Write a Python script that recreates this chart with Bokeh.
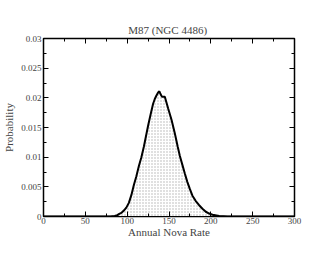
from bokeh.plotting import figure
from bokeh.models import LinearAxis, FixedTicker
from bokeh.embed import file_html
from bokeh.resources import INLINE

# Data
rate = [0, 80, 85, 88, 90, 93, 96, 99, 102, 105, 108, 111, 114, 117, 120, 125, 128, 131,
        133, 135, 137, 138.5, 140, 141.5, 145, 149, 153, 157, 160.5, 163, 166, 169, 172,
        175, 178, 182, 186, 190, 194, 198, 202, 210, 220, 300]
prob = [0, 0, 0.0001, 0.0002, 0.0004, 0.0006, 0.0010, 0.0015, 0.0023, 0.0036, 0.0053,
        0.0068, 0.0085, 0.0100, 0.0118, 0.0153, 0.0172, 0.0190, 0.0198, 0.0204, 0.0209,
        0.0211, 0.0206, 0.0202, 0.0202, 0.0182, 0.0163, 0.0140, 0.0117, 0.0102, 0.0087,
        0.0072, 0.0058, 0.0046, 0.0035, 0.0026, 0.0019, 0.0013, 0.0008, 0.0005, 0.0003,
        0.0001, 0, 0]
x_ticks = [0, 50, 100, 150, 200, 250, 300]
x_minor = [25, 75, 125, 175, 225, 275]
y_ticks = [0, 0.005, 0.01, 0.015, 0.02, 0.025, 0.03]
y_minor = [0.0025, 0.0075, 0.0125, 0.0175, 0.0225, 0.0275]
y_tick_labels = ["0", "0.005", "0.01", "0.015", "0.02", "0.025", "0.03"]
title_text = "M87  (NGC 4486)"
x_label = "Annual Nova Rate"
y_label = "Probability"

FONT = "Liberation Serif"

p = figure(width=330, height=255, output_backend="svg", toolbar_location=None,
           x_range=(0, 300), y_range=(0, 0.03), x_axis_location=None, y_axis_location=None,
           min_border_left=38, min_border_right=36, min_border_top=38, min_border_bottom=39)
p.grid.visible = False
p.outline_line_color = "black"
p.outline_line_width = 1.5
p.background_fill_color = "white"
p.border_fill_color = "white"
p.title.text = title_text
p.title.align = "center"
p.title.text_font = FONT
p.title.text_font_size = "11px"
p.title.text_font_style = "normal"
p.title.standoff = 5


def style(ax, labels=True):
    ax.axis_line_color = "black"
    ax.axis_line_width = 1
    ax.major_tick_in = 5
    ax.major_tick_out = 0
    ax.minor_tick_in = 3
    ax.minor_tick_out = 0
    ax.major_tick_line_color = "black"
    ax.minor_tick_line_color = "black"
    ax.major_label_text_font = FONT
    ax.major_label_text_font_size = "9px"
    ax.major_label_standoff = 2 if labels else 0
    ax.axis_label_text_font = FONT
    ax.axis_label_text_font_style = "normal"
    ax.axis_label_text_font_size = "11px"


bx = LinearAxis(ticker=FixedTicker(ticks=x_ticks, minor_ticks=x_minor))
style(bx)
bx.major_label_standoff = 1
bx.axis_label = x_label
bx.axis_label_standoff = -1
p.add_layout(bx, "below")

ly = LinearAxis(ticker=FixedTicker(ticks=y_ticks, minor_ticks=y_minor))
style(ly)
ly.major_label_overrides = {t: s for t, s in zip(y_ticks, y_tick_labels)}
ly.axis_label = y_label
ly.axis_label_standoff = 3
p.add_layout(ly, "left")

tx = LinearAxis(ticker=FixedTicker(ticks=x_ticks, minor_ticks=x_minor))
style(tx, labels=False)
tx.major_label_overrides = {t: "" for t in x_ticks}
p.add_layout(tx, "above")

ry = LinearAxis(ticker=FixedTicker(ticks=y_ticks, minor_ticks=y_minor))
style(ry, labels=False)
ry.major_label_overrides = {t: "" for t in y_ticks}
p.add_layout(ry, "right")

p.varea(x=rate, y1=[0] * len(rate), y2=prob, fill_color="white",
        hatch_pattern="dot", hatch_color="#b0b0b0", hatch_scale=3, hatch_weight=1)
p.line(x=rate, y=prob, line_color="black", line_width=2)

open("out.html", "w").write(file_html(p, INLINE))
